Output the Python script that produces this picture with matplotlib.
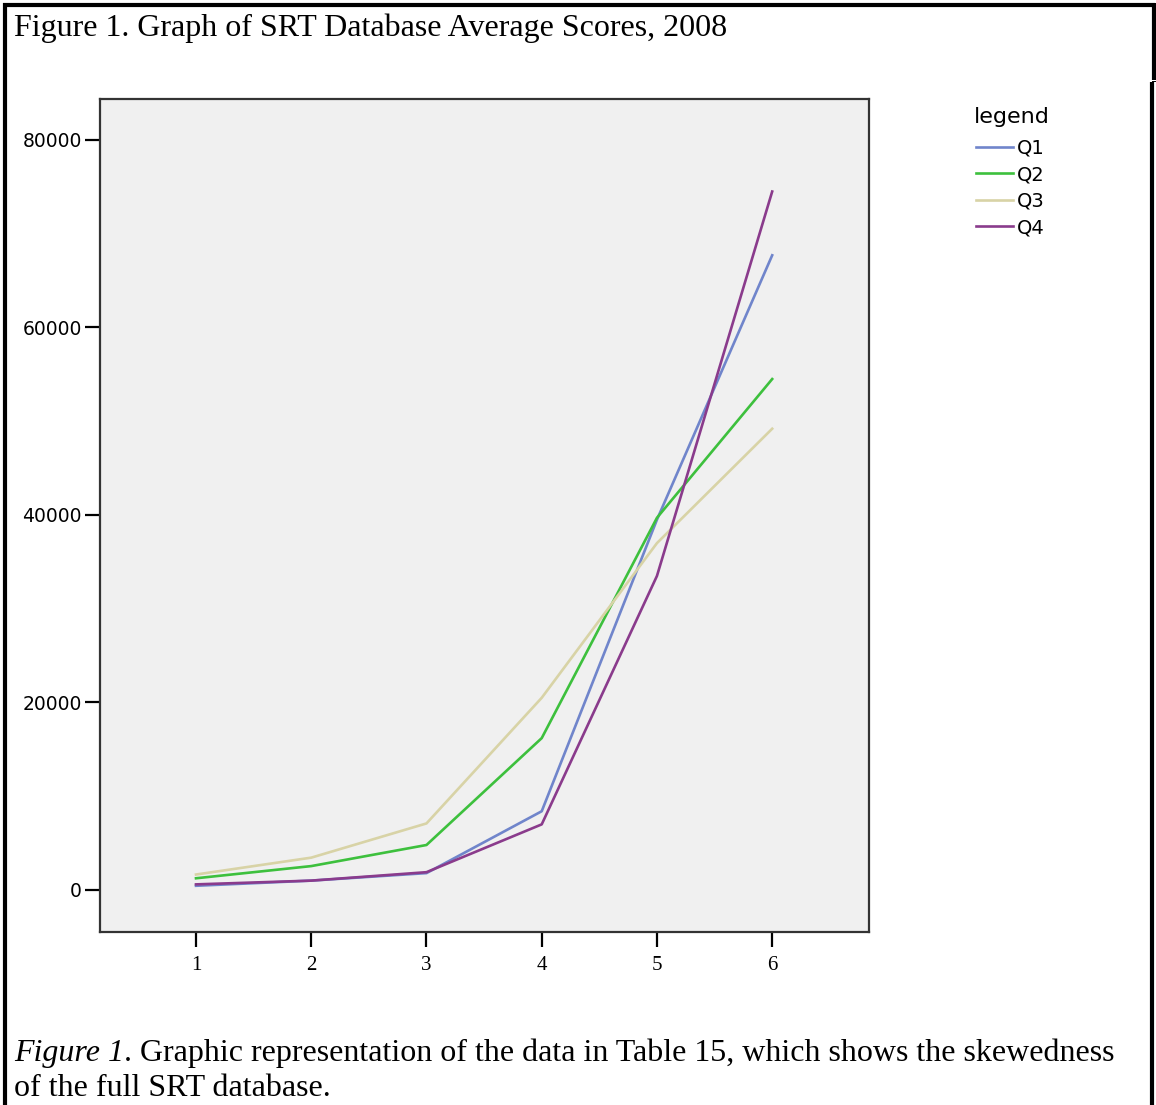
import matplotlib
matplotlib.use("Agg")
import matplotlib.pyplot as plt
from matplotlib.lines import Line2D

# data
x_vals = [1, 2, 3, 4, 5, 6]
q1 = [450, 1000, 1800, 8400, 39500, 67700]
q2 = [1250, 2550, 4800, 16200, 39700, 54500]
q3 = [1650, 3450, 7100, 20500, 37000, 49200]
q4 = [600, 1000, 1900, 7000, 33500, 74500]
series_names = ["Q1", "Q2", "Q3", "Q4"]
series_colors = ["#7085cb", "#3dc03d", "#d8d3a6", "#8a3b8c"]
y_ticks = [0, 20000, 40000, 60000, 80000]

title_text = "Figure 1. Graph of SRT Database Average Scores, 2008"
caption_italic = "Figure 1"
caption_rest = ". Graphic representation of the data in Table 15, which shows the skewedness"
caption_line2 = "of the full SRT database."

W, H = 1156, 1105
fig = plt.figure(figsize=(W / 100, H / 100), dpi=100)
fig.patch.set_facecolor("white")

ax = fig.add_axes([100 / W, 1 - 932 / H, 769 / W, 833 / H])
ax.set_facecolor("#f0f0f0")

for vals, name, col in zip([q1, q2, q3, q4], series_names, series_colors):
    ax.plot(x_vals, vals, color=col, lw=1.9, label=name)

ax.set_xlim(0.167, 6.84)
ax.set_ylim(-4480, 84370)
ax.set_xticks(x_vals)
ax.set_xticklabels([str(v) for v in x_vals], family="Liberation Serif", fontsize=15)
ax.set_yticks(y_ticks)
ax.set_yticklabels([str(v) for v in y_ticks], family="DejaVu Sans", fontsize=13.5)
ax.tick_params(axis="y", which="major", length=11, width=1.6, color="black",
               direction="out", pad=2, left=True)
ax.tick_params(axis="x", which="major", length=11, width=1.6, color="black",
               direction="out", pad=6, bottom=True)

for sp in ax.spines.values():
    sp.set_linewidth(1.6)
    sp.set_color("#333333")

# legend at the right of the plot (title drawn separately)
fig.text(974 / W, 1 - 117 / H, "legend", family="DejaVu Sans", fontsize=16,
         va="center", ha="left")
handles = [Line2D([0], [0], color=c, lw=1.9) for c in series_colors]
leg = fig.legend(handles, series_names, loc="upper left",
                 bbox_to_anchor=(960 / W, 1 - 123 / H),
                 frameon=False, fontsize=14, handlelength=1.95, handletextpad=0.2,
                 labelspacing=0.39, borderpad=0.3)

# figure texts
fig.text(14 / W, 1 - 28 / H, title_text, family="Liberation Serif",
         fontsize=23, va="center", ha="left")
t1 = fig.text(14 / W, 1 - 1053 / H, caption_italic, family="Liberation Serif",
              fontsize=23, style="italic", va="center", ha="left")
fig.canvas.draw()
bb = t1.get_window_extent()
fig.text(bb.x1 / W, 1 - 1053 / H, caption_rest, family="Liberation Serif",
         fontsize=23, va="center", ha="left")
fig.text(14 / W, 1 - 1088 / H, caption_line2, family="Liberation Serif",
         fontsize=23, va="center", ha="left")

# outer box border
border_kw = dict(color="black", lw=3, transform=fig.transFigure, solid_capstyle="butt")
fig.add_artist(Line2D([4.5 / W, 4.5 / W], [0, 1 - 3 / H], **border_kw))
fig.add_artist(Line2D([3 / W, 1155 / W], [1 - 4.5 / H, 1 - 4.5 / H], **border_kw))
fig.add_artist(Line2D([1153.5 / W, 1153.5 / W], [1 - 80 / H, 1 - 3 / H], **border_kw))
fig.add_artist(Line2D([1152 / W, 1152 / W], [0, 1 - 82 / H], **border_kw))
fig.add_artist(Line2D([1152 / W, 1], [1 - 81 / H, 1 - 81 / H], color="black",
                      lw=0.7, transform=fig.transFigure))

fig.savefig("out.png", dpi=100)
